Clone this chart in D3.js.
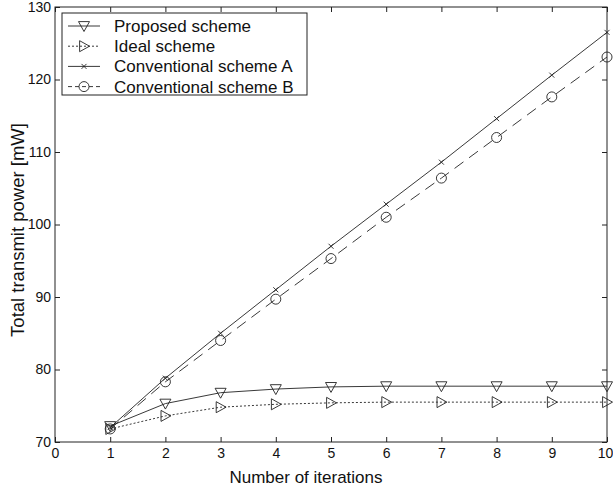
<!DOCTYPE html>
<html><head><meta charset="utf-8">
<script src="https://cdn.jsdelivr.net/npm/d3@7"></script>
<style>body{margin:0;background:#fff}svg{display:block}text{font-family:"Liberation Sans",Arial,sans-serif;fill:#111}</style>
</head><body><svg id="c" width="613" height="490"></svg>
<script>
const iterations = [1,2,3,4,5,6,7,8,9,10];
const proposed = [72.2,75.3,76.8,77.3,77.6,77.7,77.7,77.7,77.7,77.7];
const ideal = [71.8,73.6,74.8,75.2,75.4,75.5,75.5,75.5,75.5,75.5];
const convA = [72.0,78.8,85.0,91.0,97.0,102.8,108.6,114.6,120.6,126.5];
const convB = [71.8,78.3,84.0,89.7,95.3,101.0,106.4,112.0,117.6,123.1];
const xTicks = [0,1,2,3,4,5,6,7,8,9,10];
const yTicks = [70,80,90,100,110,120,130];
const labels = ["Proposed scheme","Ideal scheme","Conventional scheme A","Conventional scheme B"];

const svg = d3.select("#c");
const L=55,R=607,T=7,B=442;
const x = d3.scaleLinear().domain([0,10]).range([L,R]);
const y = d3.scaleLinear().domain([70,130]).range([B,T]);
const ink="#222";

svg.append("rect").attr("x",L).attr("y",T).attr("width",R-L).attr("height",B-T).attr("fill","none").attr("stroke",ink).attr("stroke-width",1);
const ax = svg.append("g").attr("transform",`translate(0,${B})`).call(d3.axisBottom(x).tickValues(xTicks).tickSize(-5).tickPadding(6).tickFormat(d3.format("d")));
const ay = svg.append("g").attr("transform",`translate(${L},0)`).call(d3.axisLeft(y).tickValues(yTicks).tickSize(-5).tickPadding(4));
const axt = svg.append("g").attr("transform",`translate(0,${T})`).call(d3.axisTop(x).tickValues(xTicks).tickSize(-5).tickFormat(""));
const ayr = svg.append("g").attr("transform",`translate(${R},0)`).call(d3.axisRight(y).tickValues(yTicks).tickSize(-5).tickFormat(""));
[ax,ay,axt,ayr].forEach(g=>{g.select(".domain").remove();g.selectAll("line").attr("stroke",ink);g.selectAll("text").attr("font-size",14).attr("fill","#111").style("font-family","Liberation Sans, Arial, sans-serif");});
ax.selectAll("text").attr("dy","0.71em");
ax.selectAll("text").filter(d=>d===10).attr("dx","-2");
ay.selectAll("text").attr("dy","0.32em");

svg.append("text").attr("x",306).attr("y",483).attr("text-anchor","middle").attr("font-size",17).text("Number of iterations");
svg.append("text").attr("transform",`translate(24,230) rotate(-90)`).attr("text-anchor","middle").attr("font-size",18.5).text("Total transmit power [mW]");

const series = [
  {vals:proposed, dash:null, mk:"tdown"},
  {vals:ideal, dash:"2,2", mk:"tright"},
  {vals:convA, dash:null, mk:"x"},
  {vals:convB, dash:"11,7", mk:"o"}
];
function marker(g,mk,cx,cy){
  if(mk==="o") g.append("circle").attr("cx",cx).attr("cy",cy).attr("r",5).attr("fill","none").attr("stroke",ink).attr("stroke-width",0.9);
  else if(mk==="x"){const s=2.5;g.append("path").attr("d",`M${cx-s},${cy-s}L${cx+s},${cy+s}M${cx-s},${cy+s}L${cx+s},${cy-s}`).attr("stroke",ink).attr("stroke-width",0.9);}
  else if(mk==="tdown"){const s=5.5;g.append("path").attr("d",`M${cx-s},${cy-s*0.8}L${cx+s},${cy-s*0.8}L${cx},${cy+s}Z`).attr("fill","none").attr("stroke",ink).attr("stroke-width",0.9);}
  else if(mk==="tright"){const s=5.5;g.append("path").attr("d",`M${cx-s*0.8},${cy-s}L${cx-s*0.8},${cy+s}L${cx+s},${cy}Z`).attr("fill","none").attr("stroke",ink).attr("stroke-width",0.9);}
}
const line = d3.line().x((d,i)=>x(iterations[i])).y(d=>y(d));
series.forEach(s=>{
  const g=svg.append("g");
  g.append("path").attr("d",line(s.vals)).attr("fill","none").attr("stroke",ink).attr("stroke-width",0.9).attr("stroke-dasharray",s.dash);
  s.vals.forEach((v,i)=>marker(g,s.mk,x(iterations[i]),y(v)));
});

const lg = svg.append("g");
lg.append("rect").attr("x",62).attr("y",13).attr("width",245).attr("height",82).attr("fill","#fff").attr("stroke",ink).attr("stroke-width",1);
labels.forEach((t,i)=>{
  const yy=26+i*20.2;
  lg.append("line").attr("x1",68).attr("x2",100).attr("y1",yy).attr("y2",yy).attr("stroke",ink).attr("stroke-width",0.9).attr("stroke-dasharray",series[i].dash===null?null:(i===1?"2,2":"4,3"));
  marker(lg,series[i].mk,84,yy);
  lg.append("text").attr("x",114).attr("y",yy).attr("dy","0.35em").attr("font-size",17).text(t);
});
</script></body></html>
